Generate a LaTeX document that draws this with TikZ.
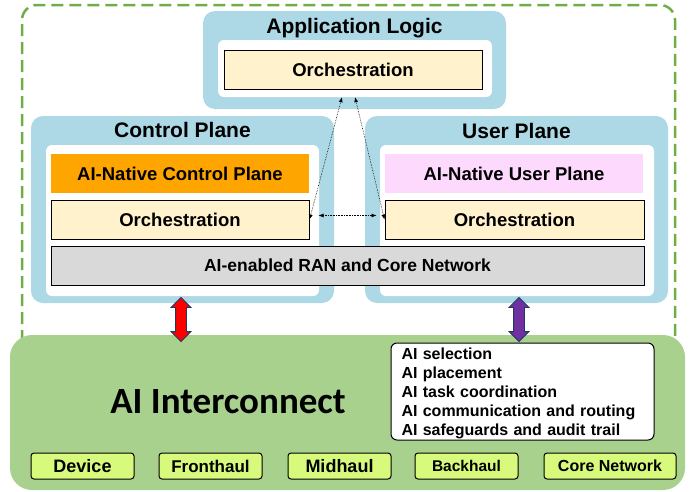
\documentclass[tikz,border=0pt]{standalone}
\usepackage{fontspec}
\setmainfont{Liberation Sans}
\newfontfamily\calibfont{Carlito}
\usetikzlibrary{shapes.arrows,arrows.meta}

\definecolor{planeblue}{HTML}{ADD8E6}
\definecolor{orchcream}{HTML}{FFF2CC}
\definecolor{nativeorange}{HTML}{FFA500}
\definecolor{nativepink}{HTML}{FDD9FD}
\definecolor{rangrey}{HTML}{D9D9D9}
\definecolor{linkgreen}{HTML}{A9D18E}
\definecolor{segmentlime}{HTML}{D7FA7C}
\definecolor{frameline}{HTML}{70AD47}
\definecolor{arrowrim}{HTML}{203864}
\definecolor{arrowpurple}{HTML}{7030A0}

\begin{document}
\begin{tikzpicture}[x=1pt, y=-1pt,
    plane/.style = {fill=planeblue, rounded corners=12pt, inner sep=0pt},
    planein/.style = {fill=white, rounded corners=6pt, inner sep=0pt},
    title/.style = {font=\bfseries\fontsize{21}{24}\selectfont, anchor=base},
    block/.style = {draw, line width=1pt, inner sep=0pt, minimum width=258pt, minimum height=39pt, font=\bfseries\fontsize{18.5}{21}\selectfont},
    segment/.style = {draw, line width=1pt, fill=segmentlime, rounded corners=3pt, minimum width=103pt, minimum height=26pt, inner sep=0pt, font=\bfseries\fontsize{16}{18}\selectfont},
    uplink/.style = {double arrow, draw=arrowrim, line width=0.8pt, minimum height=44pt, inner sep=5pt, double arrow head extend=4.5pt, shape border rotate=90},
    ctrl/.style = {densely dotted, line width=0.6pt, {Latex[length=5pt,width=4pt]}-{Latex[length=5pt,width=4pt]}}]
  \useasboundingbox (0,0) rectangle (697,491);

  % dashed frame round the planes
  \draw[frameline, line width=2.5pt, dash pattern=on 12pt off 6pt, rounded corners=15pt] (22,360) -- (22,5) -- (675,5) -- (675,360);

  % application logic
  \node[plane, minimum width=303pt, minimum height=98pt] (app) at (354.5,60) {};
  \node[title] (apptitle) at (354.5,33) {Application Logic};
  \node[planein, minimum width=274pt, minimum height=57pt] (appin) at (355,68.5) {};
  \node[block, fill=orchcream] (apporch) at (353,70) {Orchestration};

  % control plane
  \node[plane, minimum width=303pt, minimum height=187pt] (cp) at (182.5,209.5) {};
  \node[title] (cptitle) at (182.5,137) {Control Plane};
  \node[planein, minimum width=273pt, minimum height=151pt] (cpin) at (182.5,220.5) {};
  \node[block, draw=none, fill=nativeorange] (cpnative) at (180,173.5) {AI-Native Control Plane};
  \node[block, fill=orchcream] (cporch) at (180,219.5) {Orchestration};

  % user plane
  \node[plane, minimum width=303pt, minimum height=187pt] (up) at (516.5,209.5) {};
  \node[title] (uptitle) at (516.5,138) {User Plane};
  \node[planein, minimum width=274pt, minimum height=151pt] (upin) at (517,220.5) {};
  \node[block, draw=none, fill=nativepink] (upnative) at (514,173.5) {AI-Native User Plane};
  \node[block, fill=orchcream, minimum width=259pt] (uporch) at (514.5,219.5) {Orchestration};

  % shared network bar
  \node[block, fill=rangrey, minimum width=593pt, font=\bfseries\fontsize{17.5}{20}\selectfont] (ran) at (347.5,265.5) {AI-enabled RAN and Core Network};

  % orchestration links
  \draw[ctrl] ([xshift=-13pt]appin.south) -- (cporch.east);
  \draw[ctrl] (appin.south) -- (uporch.west);
  \draw[ctrl] ([xshift=9pt,yshift=4pt]cporch.east) -- ([xshift=-8pt,yshift=4pt]uporch.west);

  % interconnect
  \node[fill=linkgreen, rounded corners=22pt, minimum width=675pt, minimum height=155pt, inner sep=0pt] (link) at (347.5,412.5) {};
  \node[anchor=base, font=\calibfont\bfseries\fontsize{37}{40}\selectfont] (linktitle) at (228,413) {AI Interconnect};
  \node[draw, line width=1pt, fill=white, rounded corners=6pt, minimum width=263pt, minimum height=97pt,
        text width=242pt, inner xsep=10.5pt, inner ysep=0pt, align=left,
        font=\bfseries\fontsize{16}{19}\selectfont] (tasks) at (522.5,391.5)
    {\rule{0pt}{15.7pt}AI selection\\AI placement\\AI task coordination\\AI communication and routing\\AI safeguards and audit trail};

  \node[segment, font=\bfseries\fontsize{18}{20}\selectfont] (device) at (82.5,466) {Device};
  \node[segment, font=\bfseries\fontsize{17}{20}\selectfont] (fronthaul) at (210.5,466) {Fronthaul};
  \node[segment, font=\bfseries\fontsize{18}{20}\selectfont] (midhaul) at (339.5,466) {Midhaul};
  \node[segment, font=\bfseries\fontsize{15.5}{18}\selectfont] (backhaul) at (466.5,466) {Backhaul};
  \node[segment, minimum width=132pt] (core) at (610,466) {Core Network};

  % plane to interconnect arrows
  \node[uplink, fill=red] (cplink) at (181,319.5) {};
  \node[uplink, fill=arrowpurple] (uplinkarrow) at (519,319.5) {};
\end{tikzpicture}
\end{document}
